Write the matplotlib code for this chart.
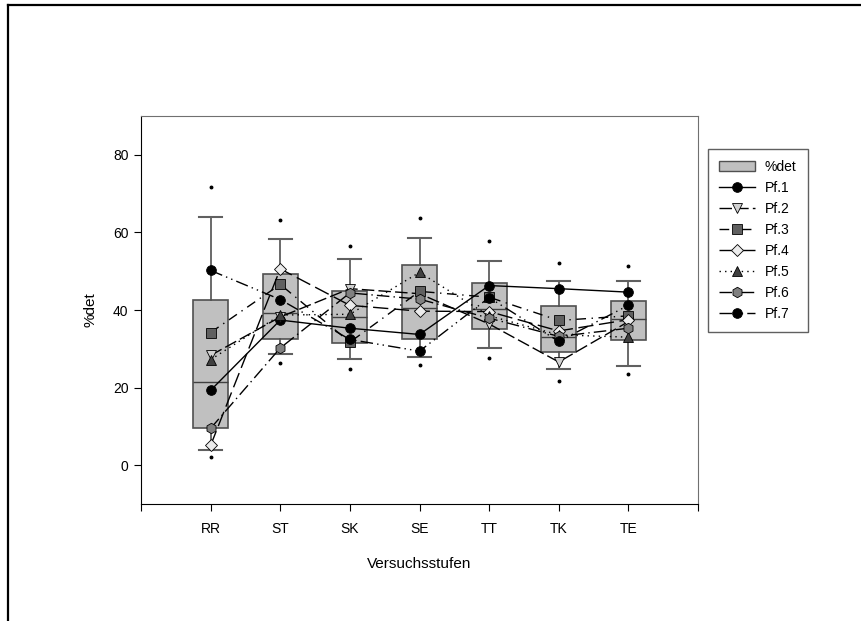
import matplotlib.pyplot as plt
from matplotlib.patches import Patch
from matplotlib.lines import Line2D

cats = ['RR', 'ST', 'SK', 'SE', 'TT', 'TK', 'TE']

# box statistics for %det
p5 = [2.2, 26.4, 24.7, 25.8, 27.6, 21.7, 23.4]
whislo = [4.0, 28.7, 27.3, 27.8, 30.3, 24.9, 25.6]
q1 = [9.7, 32.5, 31.4, 32.6, 35.1, 29.2, 32.2]
med = [21.5, 39.1, 38.3, 40.5, 40.3, 33.0, 37.6]
q3 = [42.7, 49.3, 45.0, 51.5, 47.0, 41.1, 42.2]
whishi = [64.0, 58.2, 53.2, 58.5, 52.6, 47.6, 47.4]
p95 = [71.8, 63.2, 56.4, 63.7, 57.8, 52.0, 51.4]

# individual subjects
pf1 = [19.3, 37.4, 35.3, 33.7, 46.3, 45.5, 44.6]
pf2 = [28.3, 38.2, 45.5, 44.2, 36.4, 26.6, 37.0]
pf3 = [34.2, 46.6, 31.7, 44.8, 43.3, 37.3, 38.5]
pf4 = [5.1, 50.6, 41.2, 39.7, 39.6, 34.6, 37.5]
pf5 = [27.2, 38.7, 38.9, 49.7, 38.5, 33.6, 33.0]
pf6 = [9.5, 30.2, 44.4, 42.8, 37.9, 33.2, 35.3]
pf7 = [50.2, 42.7, 32.4, 29.4, 43.2, 31.9, 41.2]

series = [
    ('Pf.1', pf1, 'o', 'black', '-', 7),
    ('Pf.2', pf2, 'v', '#d0d0d0', (0, (9, 3)), 7.5),
    ('Pf.3', pf3, 's', '#606060', (0, (7, 4, 1, 4)), 6.5),
    ('Pf.4', pf4, 'D', '#ececec', (0, (11, 4)), 6.5),
    ('Pf.5', pf5, '^', '#404040', (0, (1, 3)), 7.5),
    ('Pf.6', pf6, 'h', '#808080', (0, (9, 3, 1, 3)), 7.5),
    ('Pf.7', pf7, 'o', 'black', (0, (9, 3, 1, 3, 1, 3)), 7),
]

plt.rcParams['font.family'] = ['Liberation Sans', 'DejaVu Sans']

fig = plt.figure(figsize=(8.62, 6.21), dpi=100)
ax = fig.add_axes([141 / 862, 1 - 504 / 621, 557 / 862, 388 / 621])

pos = list(range(1, len(cats) + 1))
stats = []
for i in range(len(cats)):
    stats.append({'whislo': whislo[i], 'q1': q1[i], 'med': med[i], 'q3': q3[i],
                  'whishi': whishi[i], 'fliers': [p5[i], p95[i]]})

ax.bxp(stats, positions=pos, widths=0.5, patch_artist=True, manage_ticks=False,
       boxprops=dict(facecolor='#c0c0c0', edgecolor='#505050', linewidth=1.2),
       medianprops=dict(color='#404040', linewidth=1.0),
       whiskerprops=dict(color='#505050', linewidth=1.2),
       capprops=dict(color='#606060', linewidth=1.5),
       capwidths=0.33,
       flierprops=dict(marker='o', markersize=1.8, markerfacecolor='black',
                       markeredgecolor='black'),
       zorder=1)

for name, vals, mk, col, ls, ms in series:
    ax.plot(pos, vals, linestyle=ls, color='black', linewidth=1.0,
            marker=mk, markersize=ms, markerfacecolor=col,
            markeredgecolor='black', markeredgewidth=0.6, zorder=3)

ax.set_xlim(0, 8)
ax.set_ylim(-10, 90)
ax.set_xticks(range(0, 9))
ax.set_xticklabels([''] + cats + [''])
ax.set_yticks([0, 20, 40, 60, 80])
ax.tick_params(direction='out', length=5, width=0.8, labelsize=10, pad=8)
ax.tick_params(axis='y', pad=4)
for s in ['top', 'right']:
    ax.spines[s].set_color('#707070')
ax.set_xlabel('Versuchsstufen', fontsize=11, labelpad=15)
ax.set_ylabel('%det', fontsize=11, labelpad=11)

handles = [Patch(facecolor='#c0c0c0', edgecolor='#505050', label='%det')]
for name, vals, mk, col, ls, ms in series:
    handles.append(Line2D([], [], linestyle=ls, color='black', linewidth=1.0,
                          marker=mk, markersize=ms, markerfacecolor=col,
                          markeredgecolor='black', markeredgewidth=0.6, label=name))
leg = fig.legend(handles=handles, loc='upper left',
                 bbox_to_anchor=(701 / 862, 1 - 142 / 621), fontsize=10,
                 handlelength=2.6, handletextpad=0.7, labelspacing=0.5,
                 borderpad=0.8, fancybox=False, framealpha=1, edgecolor='#606060')
leg.get_frame().set_linewidth(1.0)

# outer frame
fig.add_artist(Line2D([8 / 862, 8 / 862], [0, 1 - 5 / 621], color='black',
                      linewidth=1.6, transform=fig.transFigure))
fig.add_artist(Line2D([8 / 862, 1], [1 - 5 / 621, 1 - 5 / 621], color='black',
                      linewidth=1.6, transform=fig.transFigure))

fig.savefig('out.png', dpi=100)
